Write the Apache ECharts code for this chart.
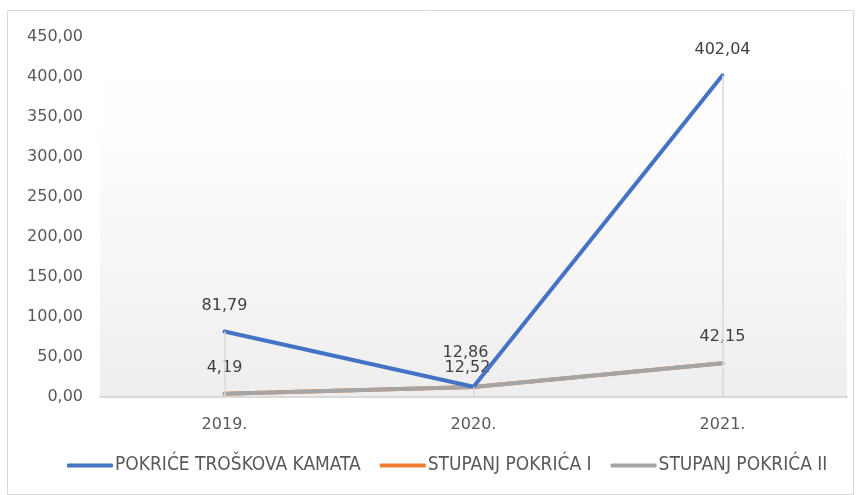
<!DOCTYPE html>
<html><head><meta charset="utf-8">
<script src="https://cdn.jsdelivr.net/npm/echarts@6/dist/echarts.min.js"></script>
<style>html,body{margin:0;padding:0;background:#fff}#c{width:860px;height:495px}</style>
</head><body><div id="c"></div>
<script>
const categories = ['2019.', '2020.', '2021.'];
const pokriceTroskovaKamata = [81.79, 12.86, 402.04];
const stupanjPokricaI = [4.19, 12.52, 42.15];
const stupanjPokricaII = [4.19, 12.52, 42.15];
const yTicks = [0, 50, 100, 150, 200, 250, 300, 350, 400, 450];

const fmt = v => v.toFixed(2).replace('.', ',');
const font = 'DejaVu Sans';
const chart = echarts.init(document.getElementById('c'));
const maxVals = categories.map((c, i) => Math.max(pokriceTroskovaKamata[i], stupanjPokricaI[i], stupanjPokricaII[i]));

chart.setOption({
  animation: false,
  graphic: [{
    type: 'rect', shape: {x: 7.5, y: 10.5, width: 846, height: 484},
    style: {fill: 'none', stroke: '#d9d9d9', lineWidth: 1}, z: -1
  }],
  grid: {
    left: 100, right: 13, top: 37, bottom: 98, show: true, borderWidth: 0,
    backgroundColor: new echarts.graphic.LinearGradient(0, 0, 0, 1, [
      {offset: 0, color: '#ffffff'}, {offset: 0.25, color: '#fefefe'}, {offset: 1, color: '#eeeeee'}
    ])
  },
  legend: {
    bottom: 15, left: 62, itemWidth: 46, itemHeight: 4, itemGap: 19,
    icon: 'roundRect',
    textStyle: {fontFamily: 'DejaVu Sans Condensed', fontSize: 19, color: '#595959', padding: [0, 0, 0, -3]},
    data: ['POKRIĆE TROŠKOVA KAMATA', 'STUPANJ POKRIĆA I', 'STUPANJ POKRIĆA II']
  },
  xAxis: {
    type: 'category', data: categories, boundaryGap: true,
    axisLine: {lineStyle: {color: '#d9d9d9', width: 2}},
    axisTick: {show: false},
    axisLabel: {fontFamily: font, fontSize: 16, color: '#595959', margin: 20}
  },
  yAxis: {
    type: 'value', min: yTicks[0], max: yTicks[yTicks.length - 1], interval: 50,
    axisLine: {show: false}, axisTick: {show: false}, splitLine: {show: false},
    axisLabel: {fontFamily: font, fontSize: 16, color: '#595959', margin: 17, formatter: v => fmt(v)}
  },
  series: [
    {
      name: 'POKRIĆE TROŠKOVA KAMATA', type: 'line', z: 3,
      data: pokriceTroskovaKamata.map((v, i) => i === 1 ? {value: v, label: {offset: [-8, -8]}} : v),
      symbol: 'circle', symbolSize: 0, showSymbol: true,
      lineStyle: {color: '#4472C4', width: 4, cap: 'round'}, itemStyle: {color: '#4472C4'},
      label: {show: true, position: 'top', distance: 18, fontFamily: font, fontSize: 16, color: '#404040', formatter: p => fmt(p.value)},
      markLine: {
        silent: true, symbol: 'none', label: {show: false},
        lineStyle: {color: '#d9d9d9', width: 1.5, type: 'solid'},
        data: categories.map((c, i) => [{coord: [i, 0]}, {coord: [i, maxVals[i]]}])
      }
    },
    {
      name: 'STUPANJ POKRIĆA I', type: 'line', data: stupanjPokricaI, z: 2,
      symbol: 'none', lineStyle: {color: '#ED7D31', width: 4, cap: 'round'}, itemStyle: {color: '#ED7D31'}
    },
    {
      name: 'STUPANJ POKRIĆA II', type: 'line', z: 2,
      data: stupanjPokricaII.map((v, i) => i === 1 ? {value: v, label: {distance: 3, offset: [-6, -8]}} : v),
      symbol: 'circle', symbolSize: 0, showSymbol: true,
      lineStyle: {color: '#A5A5A5', width: 4, cap: 'round'}, itemStyle: {color: '#A5A5A5'},
      label: {show: true, position: 'top', distance: 18, fontFamily: font, fontSize: 16, color: '#404040', formatter: p => fmt(p.value)}
    }
  ]
});
</script></body></html>
